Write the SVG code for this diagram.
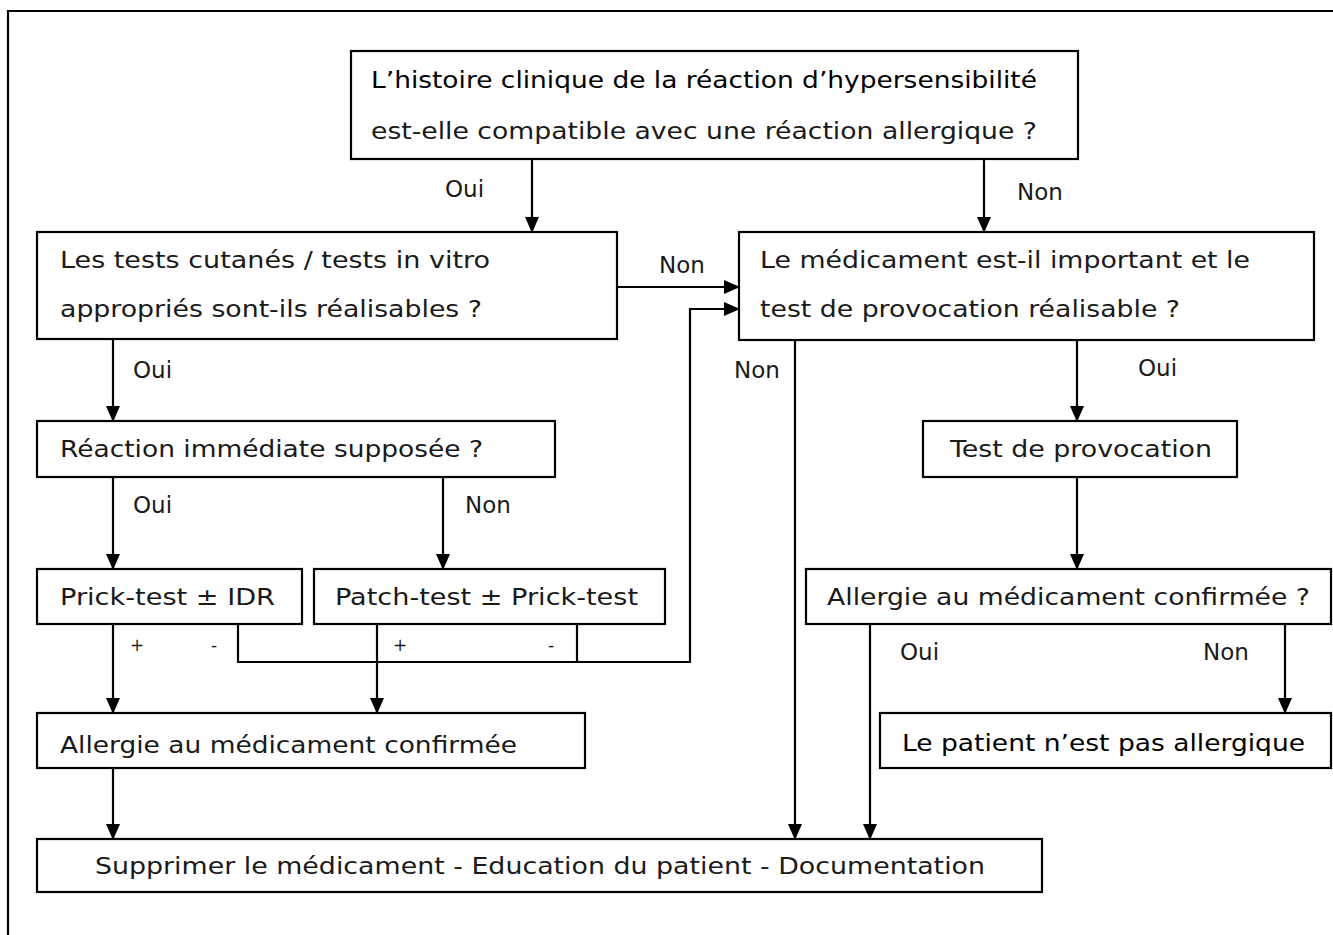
<svg xmlns="http://www.w3.org/2000/svg" width="1333" height="935" viewBox="0 0 1333 935">
<defs>
<marker id="ah" markerWidth="16" markerHeight="14" refX="15" refY="7" orient="auto" markerUnits="userSpaceOnUse">
<path d="M0,0 L16,7 L0,14 Z" fill="#000"/>
</marker>
<style>
.box{fill:#fff;stroke:#000;stroke-width:2.2}
.t{font-family:"DejaVu Sans","Open Sans",sans-serif;font-size:23px;fill:#1a1a1a}
.b{font-family:"DejaVu Sans","Open Sans",sans-serif;font-size:23px;fill:#000}
.s{font-family:"DejaVu Sans","Open Sans",sans-serif;font-size:17px;fill:#1a1a1a}
.c{fill:none;stroke:#000;stroke-width:2.2}
.a{fill:none;stroke:#000;stroke-width:2.2;marker-end:url(#ah)}
</style>
</defs>
<rect width="1333" height="935" fill="#fff"/>
<path class="c" d="M8,935 L8,11 L1333,11"/>

<g id="connectors">
<path class="a" d="M532,159 L532,232"/>
<path class="a" d="M984,159 L984,232"/>
<path class="a" d="M617,287 L739,287"/>
<path class="a" d="M238,624 L238,662 L690,662 L690,309 L739,309"/>
<path class="c" d="M577,624 L577,662"/>
<path class="a" d="M113,339 L113,421"/>
<path class="a" d="M113,477 L113,569"/>
<path class="a" d="M443,477 L443,569"/>
<path class="a" d="M113,624 L113,713"/>
<path class="a" d="M377,624 L377,713"/>
<path class="a" d="M113,768 L113,839"/>
<path class="a" d="M795,340 L795,839"/>
<path class="a" d="M1077,340 L1077,421"/>
<path class="a" d="M1077,477 L1077,569"/>
<path class="a" d="M870,624 L870,839"/>
<path class="a" d="M1285,624 L1285,713"/>
<text class="t" x="445" y="197">Oui</text>
<text class="t" x="1017" y="200">Non</text>
<text class="t" x="659" y="273">Non</text>
<text class="t" x="734" y="378">Non</text>
<text class="t" x="133" y="378">Oui</text>
<text class="t" x="1138" y="376">Oui</text>
<text class="t" x="133" y="513">Oui</text>
<text class="t" x="465" y="513">Non</text>
<text class="s" x="130" y="651">+</text>
<text class="s" x="211" y="651">-</text>
<text class="s" x="393" y="651">+</text>
<text class="s" x="548" y="651">-</text>
<text class="t" x="900" y="660">Oui</text>
<text class="t" x="1203" y="660">Non</text>
</g>

<g id="n1">
<rect class="box" x="351" y="51" width="727" height="108"/>
<text class="b" x="371" y="88" textLength="666" lengthAdjust="spacingAndGlyphs">L’histoire clinique de la réaction d’hypersensibilité</text>
<text class="t" x="371" y="139" textLength="666" lengthAdjust="spacingAndGlyphs">est-elle compatible avec une réaction allergique ?</text>
</g>
<g id="n2">
<rect class="box" x="37" y="232" width="580" height="107"/>
<text class="t" x="60" y="268" textLength="430" lengthAdjust="spacingAndGlyphs">Les tests cutanés / tests in vitro</text>
<text class="t" x="60" y="317" textLength="422" lengthAdjust="spacingAndGlyphs">appropriés sont-ils réalisables ?</text>
</g>
<g id="n3">
<rect class="box" x="739" y="232" width="575" height="108"/>
<text class="t" x="760" y="268" textLength="490" lengthAdjust="spacingAndGlyphs">Le médicament est-il important et le</text>
<text class="t" x="760" y="317" textLength="420" lengthAdjust="spacingAndGlyphs">test de provocation réalisable ?</text>
</g>
<g id="n4">
<rect class="box" x="37" y="421" width="518" height="56"/>
<text class="t" x="60" y="457" textLength="423" lengthAdjust="spacingAndGlyphs">Réaction immédiate supposée ?</text>
</g>
<g id="n5">
<rect class="box" x="923" y="421" width="314" height="56"/>
<text class="t" x="950" y="457" textLength="262" lengthAdjust="spacingAndGlyphs">Test de provocation</text>
</g>
<g id="n6">
<rect class="box" x="37" y="569" width="265" height="55"/>
<text class="t" x="60" y="605" textLength="215" lengthAdjust="spacingAndGlyphs">Prick-test ± IDR</text>
</g>
<g id="n7">
<rect class="box" x="314" y="569" width="351" height="55"/>
<text class="t" x="335" y="605" textLength="303" lengthAdjust="spacingAndGlyphs">Patch-test ± Prick-test</text>
</g>
<g id="n8">
<rect class="box" x="806" y="569" width="525" height="55"/>
<text class="t" x="827" y="605" textLength="483" lengthAdjust="spacingAndGlyphs">Allergie au médicament confirmée ?</text>
</g>
<g id="n9">
<rect class="box" x="37" y="713" width="548" height="55"/>
<text class="t" x="60" y="753" textLength="457" lengthAdjust="spacingAndGlyphs">Allergie au médicament confirmée</text>
</g>
<g id="n10">
<rect class="box" x="880" y="713" width="451" height="55"/>
<text class="b" x="902" y="751" textLength="403" lengthAdjust="spacingAndGlyphs">Le patient n’est pas allergique</text>
</g>
<g id="n11">
<rect class="box" x="37" y="839" width="1005" height="53"/>
<text class="t" x="95" y="874" textLength="890" lengthAdjust="spacingAndGlyphs">Supprimer le médicament - Education du patient - Documentation</text>
</g>
</svg>
